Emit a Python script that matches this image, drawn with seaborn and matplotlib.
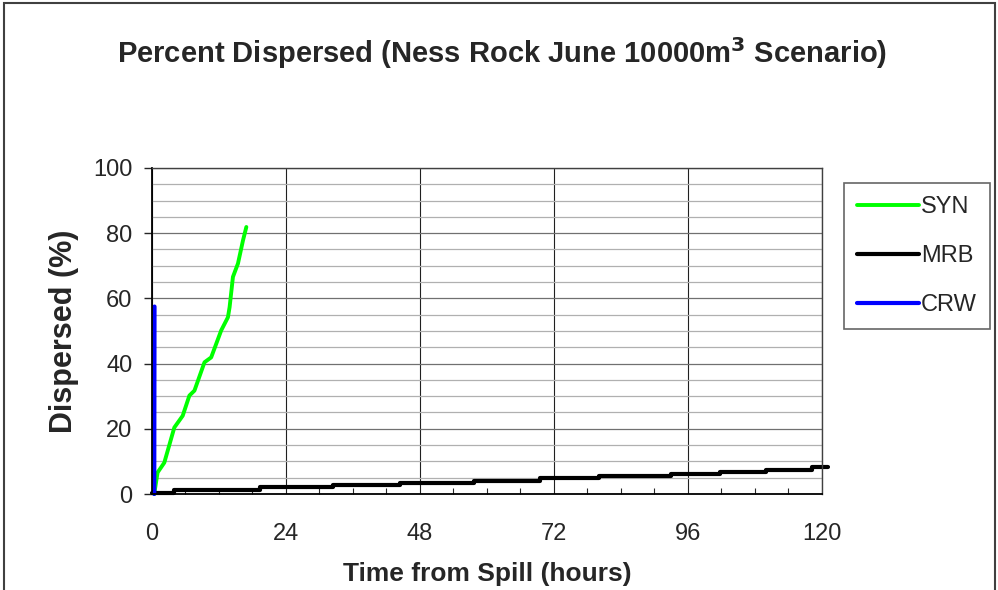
import numpy as np
import pandas as pd
import matplotlib
matplotlib.use("Agg")
import matplotlib.pyplot as plt
import seaborn as sns
from matplotlib.ticker import MultipleLocator
from matplotlib.patches import Rectangle

# Data (hours, percent dispersed)
syn_hours = [0.4, 1.0, 2.2, 4.0, 5.5, 6.7, 7.6, 9.4, 10.6, 12.4, 13.6, 13.9, 14.5, 15.4, 16.3, 16.9]
syn_pct = [0.0, 6.6, 9.6, 20.4, 24.0, 30.2, 31.7, 40.4, 41.9, 50.2, 54.2, 57.3, 66.6, 70.7, 77.8, 81.9]

mrb_hours = [0.0, 4.0, 19.4, 32.5, 44.4, 57.6, 69.5, 80.0, 93.0, 101.8, 110.0, 118.2, 121.0]
mrb_pct = [0.2, 1.2, 2.0, 2.7, 3.4, 4.1, 4.8, 5.4, 6.1, 6.8, 7.5, 8.2, 8.2]

crw_hours = [0.4, 0.45]
crw_pct = [0.0, 57.5]

x_ticks = [0, 24, 48, 72, 96, 120]
y_ticks = [0, 20, 40, 60, 80, 100]

sns.set_style("white")
plt.rcParams['font.family'] = ['Liberation Sans', 'DejaVu Sans']

fig = plt.figure(figsize=(9.98, 5.90), dpi=100)
ax = fig.add_axes([0.1523, 0.1627, 0.6713, 0.5526])

# Outer chart frame (cut off at the bottom in the reference)
fig.patches.append(Rectangle((0.004, -0.05), 0.993, 1.045, transform=fig.transFigure,
                             fill=False, edgecolor='#404040', linewidth=1.5))

# Grid
ax.yaxis.set_minor_locator(MultipleLocator(5))
ax.xaxis.set_minor_locator(MultipleLocator(6))
ax.grid(which='minor', axis='y', color='#b0b0b0', linewidth=0.9)
ax.grid(which='major', axis='y', color='#707070', linewidth=0.9)
ax.grid(which='major', axis='x', color='#202020', linewidth=0.8)
ax.set_axisbelow(True)

syn_df = pd.DataFrame({'hours': syn_hours, 'pct': syn_pct})
mrb_df = pd.DataFrame({'hours': mrb_hours, 'pct': mrb_pct})
crw_df = pd.DataFrame({'hours': crw_hours, 'pct': crw_pct})

sns.lineplot(data=syn_df, x='hours', y='pct', ax=ax, color='#00ff00', linewidth=2.8,
             label='SYN', sort=False)
sns.lineplot(data=mrb_df, x='hours', y='pct', ax=ax, color='black', linewidth=3.0,
             label='MRB', sort=False, drawstyle='steps-post')
sns.lineplot(data=crw_df, x='hours', y='pct', ax=ax, color='#0000ff', linewidth=3.0,
             label='CRW', sort=False)
for line in ax.get_lines():
    line.set_clip_on(False)

ax.set_xlim(0, 120)
ax.set_ylim(0, 100)
ax.set_xticks(x_ticks)
ax.set_yticks(y_ticks)
ax.tick_params(axis='x', which='major', direction='out', length=6, width=1,
               labelsize=17, pad=15)
ax.tick_params(axis='x', which='minor', direction='in', length=4, width=0.8,
               bottom=True)
ax.tick_params(axis='y', which='major', direction='out', length=6, width=1,
               labelsize=17, pad=8, left=True)
ax.tick_params(axis='y', which='minor', left=False)

for side in ['left', 'bottom']:
    ax.spines[side].set_color('black')
    ax.spines[side].set_linewidth(1.3)
for side in ['top', 'right']:
    ax.spines[side].set_color('#404040')
    ax.spines[side].set_linewidth(1.0)

ax.set_xlabel('Time from Spill (hours)', fontsize=19, fontweight='bold', labelpad=12)
ax.set_ylabel('Dispersed (%)', fontsize=22, fontweight='bold', labelpad=10)

fig.text(0.503, 0.91, 'Percent Dispersed (Ness Rock June 10000m$^\\mathbf{3}$ Scenario)',
         ha='center', va='center', fontsize=21, fontweight='bold')

leg = ax.legend(loc='upper left', bbox_to_anchor=(0.846, 0.69), bbox_transform=fig.transFigure,
                fontsize=17, frameon=True, fancybox=False, edgecolor='#404040',
                handlelength=2.6, handletextpad=0.1, labelspacing=1.15, borderpad=0.55,
                borderaxespad=0)
leg.get_frame().set_linewidth(1.2)

fig.savefig('out.png', dpi=100)
